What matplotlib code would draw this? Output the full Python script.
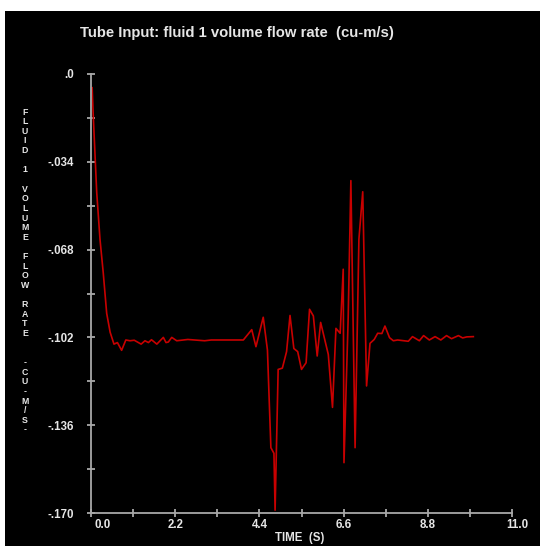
import matplotlib
matplotlib.use("Agg")
import matplotlib.pyplot as plt
from matplotlib.patches import Rectangle
from matplotlib.transforms import ScaledTranslation

# ---- data ----
time_s = [0.03, 0.06, 0.15, 0.235, 0.32, 0.41, 0.50, 0.60, 0.69, 0.80, 0.91,
          1.02, 1.13, 1.31, 1.41, 1.50, 1.58, 1.72, 1.89, 1.96, 2.02, 2.11,
          2.24, 2.53, 2.97, 3.14, 3.49, 3.98, 4.20, 4.31, 4.50, 4.61, 4.70,
          4.78, 4.81, 4.89, 5.00, 5.11, 5.20, 5.30, 5.40, 5.50, 5.62, 5.71,
          5.81, 5.91, 6.00, 6.20, 6.31, 6.40, 6.51, 6.59, 6.61, 6.72, 6.79,
          6.90, 7.00, 7.10, 7.20, 7.29, 7.40, 7.49, 7.60, 7.68, 7.80, 7.90,
          8.01, 8.29, 8.40, 8.58, 8.69, 8.84, 8.99, 9.14, 9.29, 9.42, 9.60,
          9.71, 9.82, 9.99]
flow_rate = [-0.0053, -0.0165, -0.046, -0.064, -0.077, -0.0927, -0.100, -0.1046,
             -0.104, -0.107, -0.103, -0.1033, -0.1031, -0.1046, -0.1033, -0.104,
             -0.1029, -0.1046, -0.102, -0.104, -0.1038, -0.102, -0.1033, -0.1028,
             -0.1033, -0.1030, -0.1030, -0.1030, -0.0990, -0.1056, -0.0942,
             -0.1069, -0.1447, -0.1469, -0.1689, -0.1144, -0.1139, -0.1075,
             -0.0935, -0.1063, -0.1075, -0.1144, -0.1118, -0.0911, -0.0937,
             -0.1092, -0.0962, -0.1086, -0.1291, -0.0985, -0.1004, -0.0756,
             -0.1505, -0.0942, -0.0413, -0.1447, -0.0640, -0.0456, -0.1208,
             -0.1043, -0.1028, -0.1004, -0.1005, -0.0976, -0.1021, -0.1033,
             -0.1030, -0.1035, -0.1017, -0.1033, -0.1013, -0.1030, -0.1017,
             -0.1030, -0.1013, -0.1025, -0.1013, -0.1022, -0.1018, -0.1017]

x_major = [0.0, 2.2, 4.4, 6.6, 8.8, 11.0]
x_major_labels = ["0.0", "2.2", "4.4", "6.6", "8.8", "11.0"]
x_minor = [1.1, 3.3, 5.5, 7.7, 9.9]
y_major = [0.0, -0.034, -0.068, -0.102, -0.136, -0.170]
y_major_labels = [".0", "-.034", "-.068", "-.102", "-.136", "-.170"]
y_minor = [-0.017, -0.051, -0.085, -0.119, -0.153]

title = "Tube Input: fluid 1 volume flow rate  (cu-m/s)"
ylabel = "FLUID 1 VOLUME FLOW RATE  -CU-M/S-"
xlabel = "TIME  (S)"

# ---- figure ----
W, H = 540, 546
fig = plt.figure(figsize=(W / 100, H / 100), dpi=100)
fig.patch.set_facecolor("white")
fig.patches.append(Rectangle((5 / W, 0), (W - 5) / W, (H - 11) / H,
                             transform=fig.transFigure, facecolor="black",
                             edgecolor="none", zorder=-10))

ax = fig.add_axes([91 / W, 1 - 513 / H, (512 - 91) / W, (513 - 74) / H])
ax.set_facecolor("none")
ax.plot(time_s, flow_rate, color="#c80000", lw=1.2, clip_on=False)

ax.set_xlim(0, 11.0)
ax.set_ylim(-0.170, 0.0)
for s in ["top", "right"]:
    ax.spines[s].set_visible(False)
axis_col = "#a8a8a8"
for s in ["left", "bottom"]:
    ax.spines[s].set_color(axis_col)
    ax.spines[s].set_linewidth(1.3)

font = "Liberation Sans"
txt_col = "#e6e6e6"
ax.set_xticks(x_major)
ax.set_xticklabels(x_major_labels, fontsize=8.3, fontweight="bold",
                   color=txt_col, family=font)
ax.set_xticks(x_minor, minor=True)
ax.set_yticks(y_major)
ax.set_yticklabels(y_major_labels, fontsize=8.3, fontweight="bold",
                   color=txt_col, family=font)
ax.set_yticks(y_minor, minor=True)
ax.tick_params(axis="both", which="both", direction="inout", length=5.8,
               width=1.3, color=axis_col)
ax.tick_params(axis="y", which="major", pad=9.4)
ax.tick_params(axis="x", which="major", pad=1.5)

# shift first x label right, like the reference
lbls = ax.get_xticklabels()
lbls[0].set_transform(lbls[0].get_transform() +
                      ScaledTranslation(12 / 100, 0, fig.dpi_scale_trans))
lbls[-1].set_transform(lbls[-1].get_transform() +
                       ScaledTranslation(5 / 100, 0, fig.dpi_scale_trans))

fig.text(80 / W, 1 - 33 / H, title, ha="left", va="center", fontsize=10.7,
         fontweight="bold", color=txt_col, family=font)
fig.text(300 / W, 1 - 538 / H, xlabel, ha="center", va="center", fontsize=8.3,
         fontweight="bold", color=txt_col, family=font)
fig.text(25 / W, 1 - 271 / H, "\n".join(ylabel), ha="center", va="center",
         fontsize=6.3, fontweight="bold", color=txt_col, family=font,
         linespacing=1.09)

fig.savefig("out.png", dpi=100, facecolor=fig.get_facecolor())
